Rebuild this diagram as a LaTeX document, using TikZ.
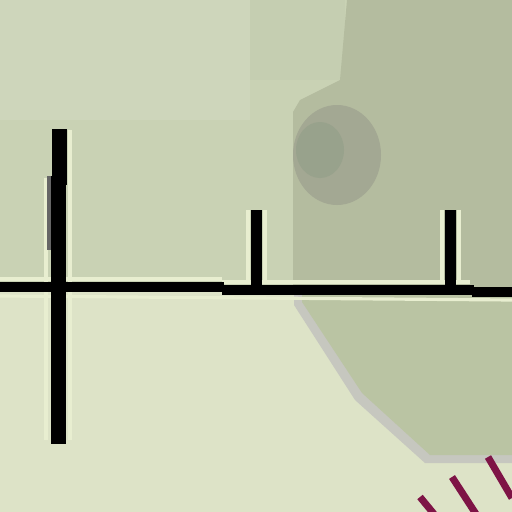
\documentclass[tikz,border=0pt]{standalone}
\begin{document}
\begin{tikzpicture}[x=0.01cm,y=-0.01cm]
\definecolor{bgtop}{HTML}{C9D2B4}
\definecolor{bgtl}{HTML}{CED6BB}
\definecolor{bglow}{HTML}{DDE3C7}
\definecolor{darkgr}{HTML}{B4BC9F}
\definecolor{blob}{HTML}{A3A893}
\definecolor{blobc}{HTML}{98A28C}
\definecolor{lowdark}{HTML}{BAC4A3}
\definecolor{edgegr}{HTML}{C6C7BF}
\definecolor{hilite}{HTML}{E8EED0}
\definecolor{mag}{HTML}{7E1446}
\tikzset{
  blk/.style={fill=black},
  hl/.style={draw=hilite, line width=0.9pt},
  hatch/.style={draw=mag, line width=2pt, line cap=butt}
}
\useasboundingbox (0,0) rectangle (512,512);
% backgrounds
\fill[bglow] (0,0) rectangle (512,512);
\fill[bgtop] (0,0) rectangle (512,290);
\fill[bgtl] (0,0) rectangle (250,120);
\fill[bgtop!95!gray] (250,0) rectangle (345,80);
% dark right region upper
\fill[darkgr] (347,0) -- (512,0) -- (512,290) -- (293,290) -- (293,112) -- (300,100) -- (340,80) -- cycle;
\fill[blob] (337,155) ellipse (44 and 50);
\fill[blobc] (320,150) ellipse (24 and 28);
% lower dark region with grey border
\fill[edgegr] (294,292) -- (512,292) -- (512,463) -- (425,463) -- (355,400) -- (294,305) -- cycle;
\fill[lowdark] (302,292) -- (512,292) -- (512,455) -- (430,455) -- (362,393) -- (302,302) -- cycle;
% highlights
\draw[hl] (0,279) -- (222,279);
\draw[hl] (222,282) -- (470,282);
\draw[hl] (0,296) -- (512,300);
\draw[hl] (46,178) -- (46,440);
\draw[hl] (70,130) -- (70,440);
\draw[hl] (248,210) -- (248,280);
\draw[hl] (265,210) -- (265,280);
\draw[hl] (442,210) -- (442,280);
\draw[hl] (459,210) -- (459,280);
% horizontal line
\fill[blk] (0,282) rectangle (224,292);
\fill[blk] (222,285) rectangle (474,295);
\fill[blk] (472,287) rectangle (512,297);
% ticks
\fill[blk] (251,210) rectangle (262,288);
\fill[blk] (445,210) rectangle (456,288);
% tall vertical
\fill[blk] (52,129) rectangle (67,185);
\fill[blk] (51,176) rectangle (66,444);
\fill[black!60] (47,176) rectangle (51,250);
% magenta hatches
\draw[hatch] (420,497) -- (434,514);
\draw[hatch] (452,477) -- (476,514);
\draw[hatch] (488,457) -- (512,498);
\end{tikzpicture}
\end{document}
